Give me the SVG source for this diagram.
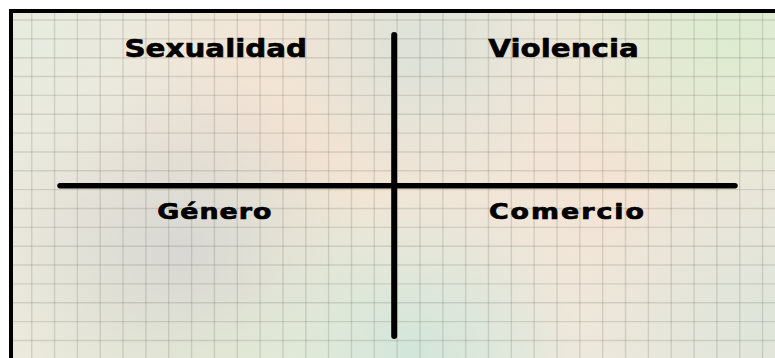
<svg xmlns="http://www.w3.org/2000/svg" width="775" height="358" viewBox="0 0 775 358">
<defs>
<style>
.lbl{font-family:"DejaVu Sans","Verdana",sans-serif;font-weight:bold;fill:#000;stroke:#000;stroke-width:0.6;stroke-linejoin:round}
.top{font-size:25px}
.bot{font-size:22px;stroke-width:0.7}
.grid{stroke:#5a5a50;stroke-opacity:0.18;stroke-width:1.4;fill:none}
.axis{stroke:#000;stroke-linecap:round;fill:none}
</style>
<radialGradient id="gPeach1" cx="300" cy="150" r="260" gradientUnits="userSpaceOnUse"><stop offset="0" stop-color="#f6e3d2"/><stop offset="1" stop-color="#f6e3d2" stop-opacity="0"/></radialGradient>
<radialGradient id="gPeach2" cx="620" cy="170" r="220" gradientUnits="userSpaceOnUse"><stop offset="0" stop-color="#f4e3d4"/><stop offset="1" stop-color="#f4e3d4" stop-opacity="0"/></radialGradient>
<radialGradient id="gGreenTR" cx="730" cy="30" r="190" gradientUnits="userSpaceOnUse"><stop offset="0" stop-color="#dcecd0"/><stop offset="1" stop-color="#dcecd0" stop-opacity="0"/></radialGradient>
<radialGradient id="gGreenBL" cx="220" cy="350" r="220" gradientUnits="userSpaceOnUse"><stop offset="0" stop-color="#e8f2d6"/><stop offset="1" stop-color="#e8f2d6" stop-opacity="0"/></radialGradient>
<radialGradient id="gGray" cx="180" cy="250" r="190" gradientUnits="userSpaceOnUse"><stop offset="0" stop-color="#d8d7d3"/><stop offset="1" stop-color="#d8d7d3" stop-opacity="0"/></radialGradient>
<radialGradient id="gMint" cx="410" cy="355" r="170" gradientUnits="userSpaceOnUse"><stop offset="0" stop-color="#d2e6da"/><stop offset="1" stop-color="#d2e6da" stop-opacity="0"/></radialGradient>
<radialGradient id="gTopMid" cx="420" cy="50" r="150" gradientUnits="userSpaceOnUse"><stop offset="0" stop-color="#dde2d8"/><stop offset="1" stop-color="#dde2d8" stop-opacity="0"/></radialGradient>
<radialGradient id="gTL" cx="40" cy="40" r="170" gradientUnits="userSpaceOnUse"><stop offset="0" stop-color="#e8ebdf"/><stop offset="1" stop-color="#e8ebdf" stop-opacity="0"/></radialGradient>
<radialGradient id="gBR" cx="760" cy="320" r="180" gradientUnits="userSpaceOnUse"><stop offset="0" stop-color="#dfe5da"/><stop offset="1" stop-color="#dfe5da" stop-opacity="0"/></radialGradient>
</defs>
<rect x="0" y="0" width="775" height="358" fill="#ffffff"/>
<g id="background">
<rect x="11" y="11" width="780" height="360" fill="#ece9dd"/>
<rect x="11" y="11" width="780" height="360" fill="url(#gPeach1)"/>
<rect x="11" y="11" width="780" height="360" fill="url(#gPeach2)"/>
<rect x="11" y="11" width="780" height="360" fill="url(#gGreenTR)"/>
<rect x="11" y="11" width="780" height="360" fill="url(#gGreenBL)"/>
<rect x="11" y="11" width="780" height="360" fill="url(#gGray)"/>
<rect x="11" y="11" width="780" height="360" fill="url(#gMint)"/>
<rect x="11" y="11" width="780" height="360" fill="url(#gTopMid)"/>
<rect x="11" y="11" width="780" height="360" fill="url(#gTL)"/>
<rect x="11" y="11" width="780" height="360" fill="url(#gBR)"/>
</g>
<g id="grid" class="grid">
<path d="M31.7 13V358M54.54 13V358M77.38 13V358M100.22 13V358M123.06 13V358M145.9 13V358M168.74 13V358M191.58 13V358M214.42 13V358M237.26 13V358M260.1 13V358M282.94 13V358M305.78 13V358M328.62 13V358M351.46 13V358M374.3 13V358M397.14 13V358M419.98 13V358M442.82 13V358M465.66 13V358M488.5 13V358M511.34 13V358M534.18 13V358M557.02 13V358M579.86 13V358M602.7 13V358M625.54 13V358M648.38 13V358M671.22 13V358M694.06 13V358M716.9 13V358M739.74 13V358M762.58 13V358"/>
<path d="M13 20H775M13 38.85H775M13 57.7H775M13 76.55H775M13 95.4H775M13 114.25H775M13 133.1H775M13 151.95H775M13 170.8H775M13 189.65H775M13 208.5H775M13 227.35H775M13 246.2H775M13 265.05H775M13 283.9H775M13 302.75H775M13 321.6H775M13 340.45H775"/>
</g>
<rect id="frame" x="11" y="11" width="800" height="400" fill="none" stroke="#000" stroke-width="4"/>
<g id="connectors">
<line class="axis" x1="60" y1="185.7" x2="735" y2="185.7" stroke-width="5.5"/>
<line class="axis" x1="394.2" y1="35" x2="394.2" y2="336" stroke-width="6"/>
</g>
<g id="node-sexualidad"><text class="lbl top" transform="translate(124.4 56.5) scale(1.175 1)">Sexualidad</text></g>
<g id="node-violencia"><text class="lbl top" transform="translate(488.2 56.5) scale(1.175 1)">Violencia</text></g>
<g id="node-genero"><text class="lbl bot" transform="translate(157.2 218.8) scale(1.22 1)" letter-spacing="0.85">Género</text></g>
<g id="node-comercio"><text class="lbl bot" transform="translate(488.9 218.8) scale(1.22 1)" letter-spacing="1.65">Comercio</text></g>
</svg>
